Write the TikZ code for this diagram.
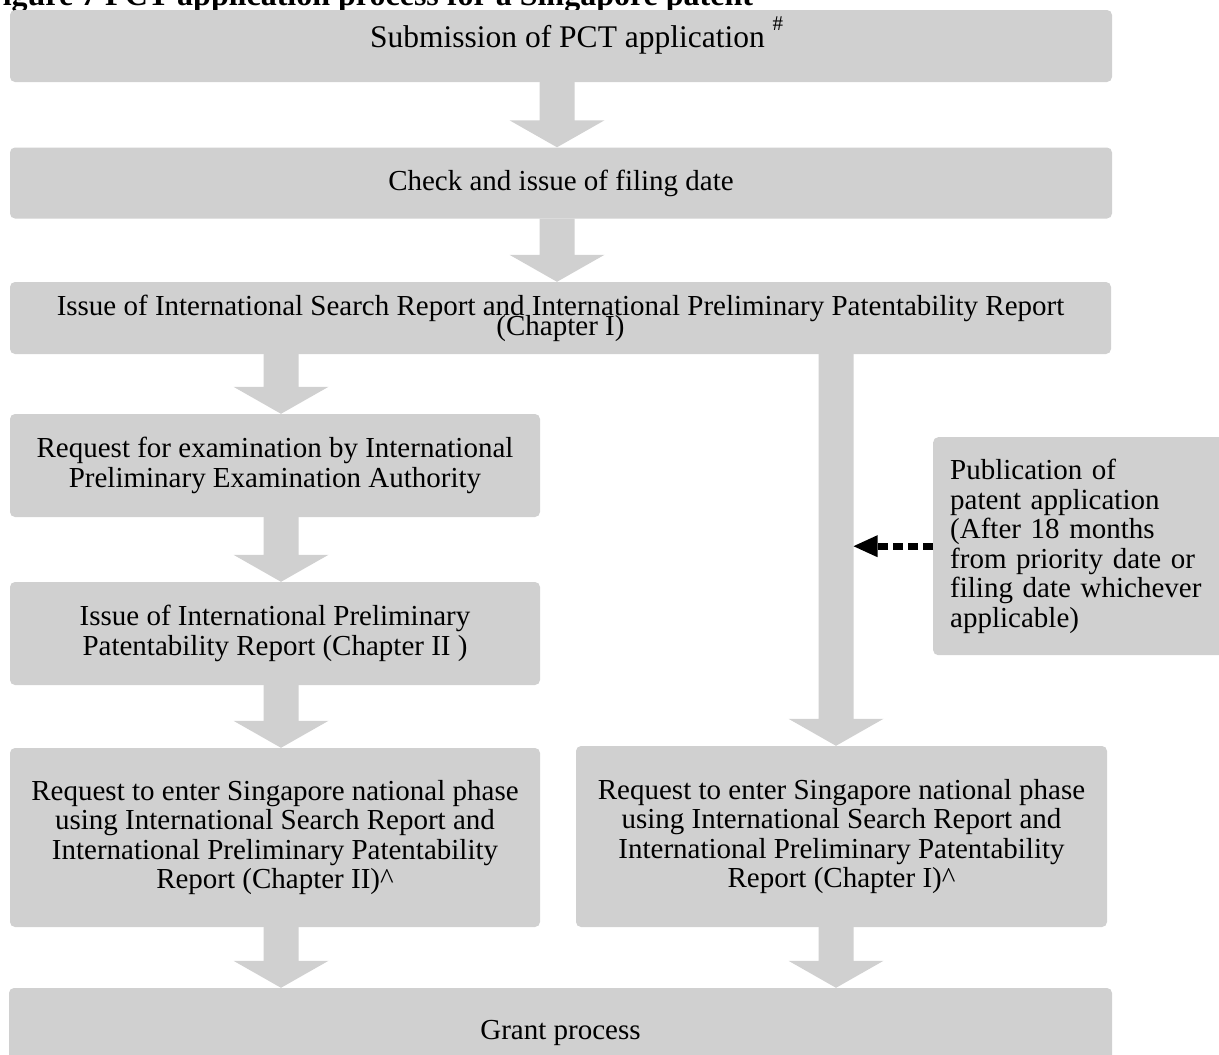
\documentclass[tikz,border=0pt]{standalone}
\usepackage{fontspec}
\setmainfont{Liberation Serif}
\usetikzlibrary{calc}
\definecolor{boxgray}{RGB}{208,208,208}

\begin{document}
\begin{tikzpicture}[x=1pt,y=-1pt,
    box/.style={fill=boxgray,rounded corners=5pt,inner sep=0pt,align=center,
      font=\fontsize{29}{29.5}\selectfont},
    bigarrow/.style={to path={let \p1=(\tikztostart),\p2=(\tikztotarget) in
      (\x1-17.5pt,\y1)--(\x1-17.5pt,\y2+27pt)--(\x1-47.5pt,\y2+27pt)--(\x1,\y2)
      --(\x1+47.5pt,\y2+27pt)--(\x1+17.5pt,\y2+27pt)--(\x1+17.5pt,\y1)--cycle}},
    dashline/.style={line width=7pt,dash pattern=on 10pt off 5pt}]
  \useasboundingbox (0,0) rectangle (1219,1055);
  \clip (0,0) rectangle (1219,1055);
  \node[anchor=base west,inner sep=0pt,font=\bfseries\fontsize{32}{32}\selectfont] (title) at (-17,5)
    {Figure 7 PCT application process for a Singapore patent};
  % columns of the arrows
  \coordinate (mcol) at (557,0);
  \coordinate (lcol) at (281,0);
  \coordinate (rcol) at (836,0);
  \node[box,minimum width=1102pt,minimum height=72pt] (sub) at (561,46) {};
  \node[anchor=base west,inner sep=0pt,font=\fontsize{31.5}{31.5}\selectfont] (subtext) at (370,47)
    {Submission of PCT application \raisebox{17pt}{\fontsize{21}{21}\selectfont\#}};
  \node[box,minimum width=1102pt,minimum height=71pt] (chk) at (561,183) {Check and issue of filing date};
  \node[box,minimum width=1101pt,minimum height=72pt] (iss) at (560.5,318)
    {Issue of International Search Report and International Preliminary Patentability Report\\[-9.5pt](Chapter I)};
  \node[box,minimum width=530pt,minimum height=103pt] (rq) at (275,465.5)
    {Request for examination by International\\Preliminary Examination Authority};
  \node[box,minimum width=530pt,minimum height=103pt] (ipr) at (275,633.5)
    {Issue of International Preliminary\\Patentability Report (Chapter II )};
  \node[box,minimum width=530pt,minimum height=179pt] (natII) at (275,837.5)
    {Request to enter Singapore national phase\\using International Search Report and\\International Preliminary Patentability\\Report (Chapter II)\textasciicircum};
  \node[box,minimum width=531pt,minimum height=181pt] (natI) at (841.5,836.5)
    {Request to enter Singapore national phase\\using International Search Report and\\International Preliminary Patentability\\Report (Chapter I)\textasciicircum};
  \node[box,anchor=north west,minimum width=294pt,minimum height=218pt,text width=260pt,inner xsep=17pt,align=left] (pub) at (933,437)
    {Publication of\\patent application\\(After 18 months\\from priority date or\\filing date whichever\\applicable)};
  \node[box,minimum width=1103pt,minimum height=90pt] (grant) at (560.5,1033) {Grant process};
  % block arrows
  \foreach \c/\a/\b in {mcol/sub/chk,mcol/chk/iss,lcol/iss/rq,lcol/rq/ipr,lcol/ipr/natII,
      lcol/natII/grant,rcol/iss/natI,rcol/natI/grant}
    \fill[boxgray] (\c |- \a.south) to[bigarrow] (\c |- \b.north);
  % publication
  \path (rcol |- pub.west) ++(17.5,0) coordinate (pubtip);
  \draw[dashline] (pub.west) -- ([xshift=24pt]pubtip);
  \fill (pubtip) -- ++(24,-11) -- ++(0,22) -- cycle;
\end{tikzpicture}
\end{document}
